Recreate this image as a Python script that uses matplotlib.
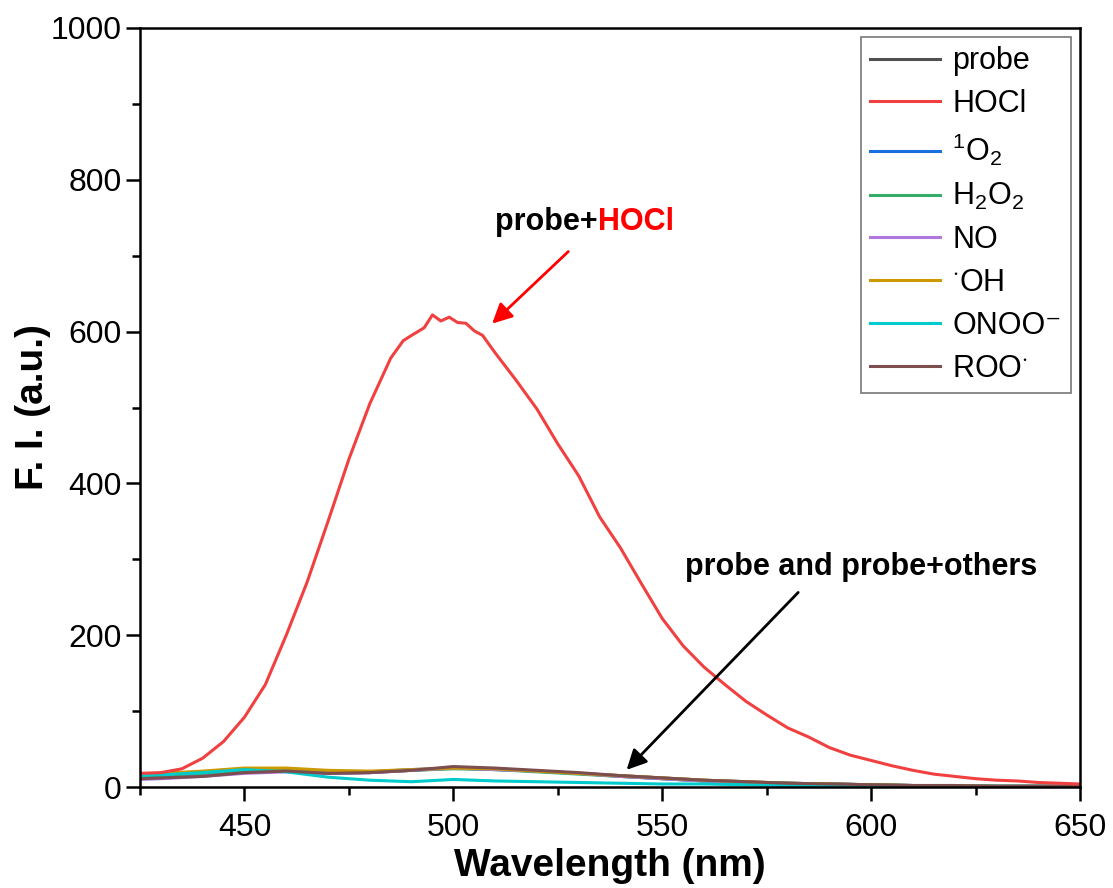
import numpy as np
import matplotlib
matplotlib.use("Agg")
from matplotlib import pyplot as plt
from matplotlib.ticker import MultipleLocator

plt.rcParams['font.family'] = ['Liberation Sans', 'DejaVu Sans']
plt.rcParams['mathtext.fontset'] = 'custom'
plt.rcParams['mathtext.rm'] = 'Liberation Sans'
plt.rcParams['mathtext.default'] = 'regular'

# HOCl spectrum
wl_hocl = [425, 430, 435, 440, 445, 450, 455, 460, 465, 470, 475, 480, 485, 488, 490,
           493, 495, 497, 499, 501, 503, 505, 507, 510, 515, 520, 525, 530, 535, 540,
           545, 550, 555, 560, 565, 570, 575, 580, 585, 590, 595, 600, 605, 610, 615,
           620, 625, 630, 635, 640, 645, 650]
fi_hocl = [18, 19, 24, 38, 60, 92, 135, 200, 270, 350, 432, 505, 565, 588, 595,
           605, 622, 614, 619, 612, 611, 601, 595, 572, 536, 498, 452, 410, 356, 315,
           268, 222, 186, 158, 135, 113, 95, 78, 66, 52, 42, 35, 28, 22, 17,
           14, 11, 9, 8, 6, 5, 4]

# probe and probe+others
wl_low = [425, 430, 440, 450, 460, 470, 480, 490, 500, 510, 520, 530, 540, 550, 560,
          570, 580, 590, 600, 610, 620, 630, 640, 650]
fi_probe = [12, 13, 16, 20, 21, 18, 19, 22, 25, 24, 21, 18, 15, 12, 9, 7, 5, 4, 3, 2, 2, 1, 1, 1]
fi_1o2 = [13, 14, 17, 21, 22, 19, 20, 23, 25, 23, 21, 18, 14, 11, 8, 6, 5, 4, 3, 2, 2, 1, 1, 1]
fi_h2o2 = [14, 15, 18, 22, 23, 20, 20, 22, 24, 23, 20, 17, 14, 11, 8, 6, 5, 4, 3, 2, 2, 1, 1, 1]
fi_no = [10, 11, 14, 18, 20, 18, 19, 22, 25, 23, 21, 18, 14, 11, 8, 6, 4, 3, 2, 2, 1, 1, 1, 1]
fi_oh = [17, 18, 21, 25, 25, 22, 21, 23, 25, 24, 21, 18, 15, 12, 9, 7, 5, 4, 3, 2, 2, 1, 1, 1]
fi_onoo = [15, 16, 19, 23, 20, 13, 9, 7, 10, 8, 7, 6, 5, 4, 4, 3, 2, 2, 1, 1, 1, 1, 1, 1]
fi_roo = [11, 12, 14, 19, 21, 18, 19, 22, 27, 25, 22, 19, 15, 12, 9, 7, 5, 4, 3, 2, 2, 1, 1, 1]

labels = ['probe', 'HOCl', r'$^1$O$_2$', r'H$_2$O$_2$', 'NO', r'$^{\cdot}$OH',
          'ONOO\u207b', r'ROO$^{\cdot}$']
colors = ['#515151', '#F14040', '#1A6FDF', '#37AD6B', '#B177DE', '#CC9900',
          '#00CBCC', '#7D4E4E']

fig = plt.figure(figsize=(11.13, 8.88), dpi=100)
ax = fig.add_axes([0.1258, 0.1137, 0.8446, 0.8548])

series = [(wl_low, fi_probe), (wl_hocl, fi_hocl), (wl_low, fi_1o2), (wl_low, fi_h2o2),
          (wl_low, fi_no), (wl_low, fi_oh), (wl_low, fi_onoo), (wl_low, fi_roo)]
# draw low curves first so the red one is on top like the reference
order = [0, 2, 3, 4, 5, 6, 7, 1]
handles = {}
for i in order:
    x, y = series[i]
    h, = ax.plot(x, y, color=colors[i], lw=2.2, label=labels[i])
    handles[i] = h

ax.set_xlim(425, 650)
ax.set_ylim(0, 1000)
ax.xaxis.set_major_locator(MultipleLocator(50))
ax.xaxis.set_minor_locator(MultipleLocator(25))
ax.yaxis.set_major_locator(MultipleLocator(200))
ax.yaxis.set_minor_locator(MultipleLocator(100))
ax.tick_params(which='major', direction='out', length=10, width=1.8, labelsize=23, pad=3)
ax.tick_params(which='minor', direction='out', length=6, width=1.8)
ax.tick_params(axis='x', which='major', pad=9)
for s in ax.spines.values():
    s.set_linewidth(1.8)

ax.set_xlabel('Wavelength (nm)', fontsize=28, fontweight='bold', labelpad=3)
ax.set_ylabel('F. I. (a.u.)', fontsize=28, fontweight='bold', labelpad=0)

leg = ax.legend([handles[i] for i in range(8)], labels, loc='upper right',
                fontsize=22, frameon=True, fancybox=False, edgecolor='#555555',
                handlelength=2.3, labelspacing=0.42, borderaxespad=0.3,
                handletextpad=0.4, borderpad=0.3)
leg.get_frame().set_linewidth(1.2)

# annotations
ax.text(534.6, 744, 'probe+', ha='right', va='center', fontsize=22, fontweight='bold')
ax.text(534.6, 744, 'HOCl', ha='left', va='center', fontsize=22, fontweight='bold',
        color='#FF0000')
ax.annotate('', xy=(508.8, 608), xytext=(528, 708),
            arrowprops=dict(arrowstyle='-|>', color='#FF0000', lw=2,
                            mutation_scale=30))
ax.text(597.6, 290, 'probe and probe+others', ha='center', va='center', fontsize=22,
        fontweight='bold')
ax.annotate('', xy=(541, 20), xytext=(583, 259),
            arrowprops=dict(arrowstyle='-|>', color='black', lw=2,
                            mutation_scale=30))

fig.savefig('out.png', dpi=100)
